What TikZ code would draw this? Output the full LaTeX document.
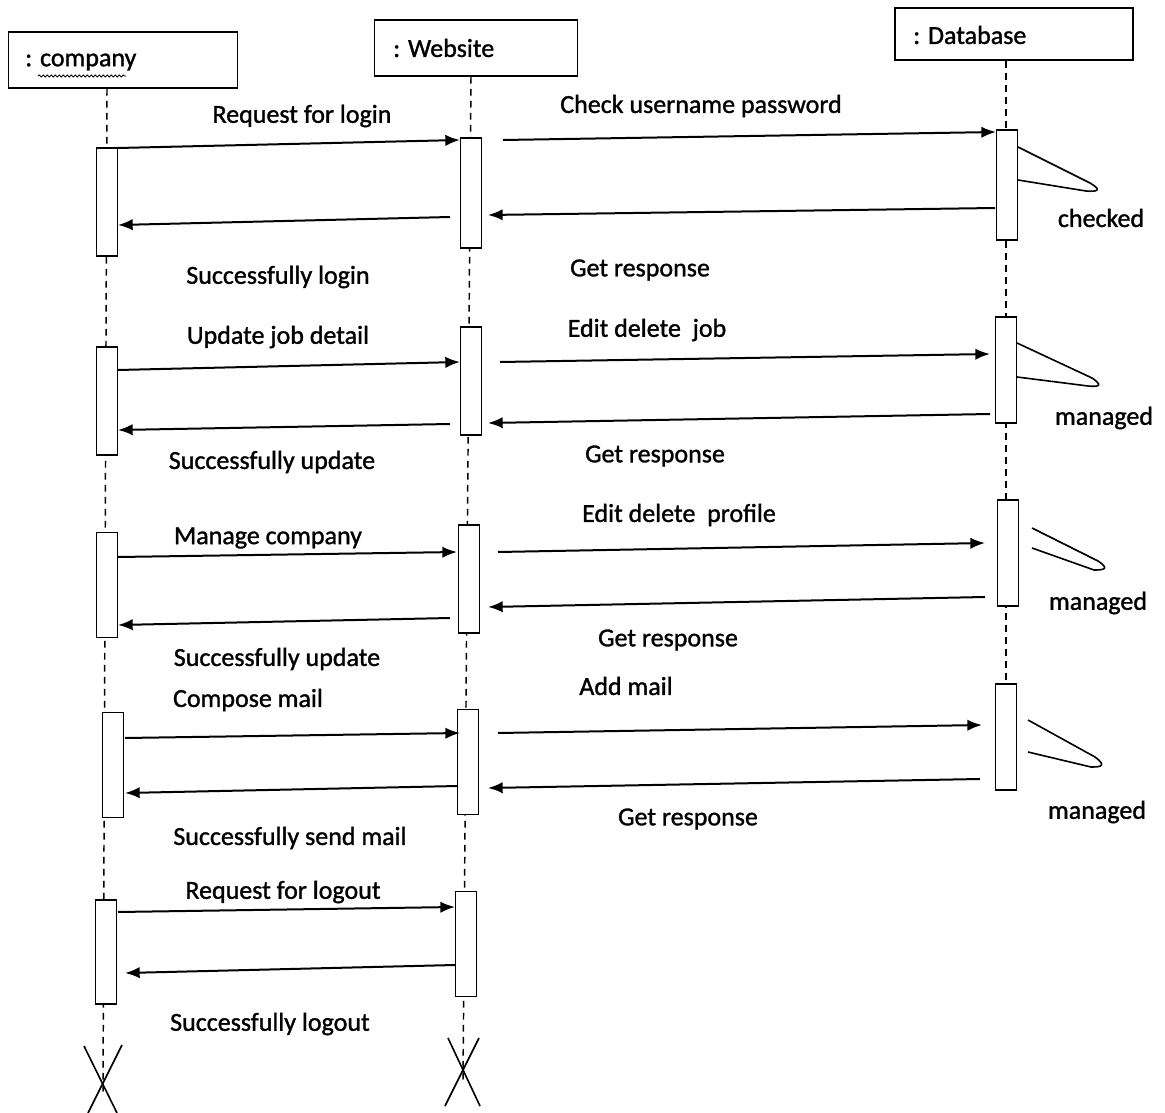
\documentclass[tikz,border=0pt]{standalone}
\usepackage{fontspec}
\setmainfont{Carlito}
\newfontfamily\lblfont{Carlito}[FakeBold=1.2]
\usetikzlibrary{arrows.meta,decorations.pathmorphing}
\tikzset{
  objbox/.style={draw, line width=1.4pt, inner sep=0pt},
  actbox/.style={draw, fill=white, line width=1.2pt, minimum width=16pt, inner sep=0pt},
  life/.style={line width=1.1pt, dash pattern=on 5pt off 4pt},
  msg/.style={line width=1.5pt, -{Latex[length=11pt,width=8.5pt]}},
  lbl/.style={font=\lblfont\fontsize{19.5}{22}\selectfont, inner sep=0pt},
  loopline/.style={line width=1.2pt, line join=round},
  xmark/.style={line width=1.2pt}
}
\newcommand\actv[5]{\node[actbox, minimum height=#4*0.75pt] (#1) at (#2,#3) {};}
\begin{document}
\begin{tikzpicture}[x=0.75pt,y=-0.75pt]
\useasboundingbox (0,0) rectangle (1165,1113);
\fill[white] (0,0) rectangle (1165,1113);
% object boxes
\node[objbox, minimum width=229*0.75pt, minimum height=56*0.75pt] (comp) at (123,60) {};
\node[lbl, anchor=west] (comptxt) at (25,62) {: company};
\draw[line width=0.6pt, decorate, decoration={snake, amplitude=0.8pt, segment length=3pt}] (38,76) -- (126,76);
\node[objbox, minimum width=203*0.75pt, minimum height=56*0.75pt] (web) at (476,48) {};
\node[lbl, anchor=west] (webtxt) at (393,48) {: Website};
\node[objbox, minimum width=238*0.75pt, minimum height=52*0.75pt] (db) at (1014,34) {};
\node[lbl, anchor=west] (dbtxt) at (913,35) {: Database};
% lifelines
\coordinate (cend) at (103,1095);
\coordinate (wend) at (463,1080);
\coordinate (dend) at (1006,684);
\draw[life] (comp.south -| 107,0) -- (cend);
\draw[life] (web.south -| 471,0) -- (wend);
\draw[life] (db.south -| 1006,0) -- (dend);
% activations
\actv{ca1}{107}{202}{108}{}
\actv{ca2}{107}{401}{108}{}
\actv{ca3}{107}{585}{105}{}
\actv{ca4}{113}{765}{105}{}
\actv{ca5}{106}{952}{104}{}
\actv{wa1}{471}{193}{110}{}
\actv{wa2}{471}{381}{108}{}
\actv{wa3}{469}{579}{108}{}
\actv{wa4}{468}{762}{105}{}
\actv{wa5}{466}{944}{105}{}
\actv{da1}{1007}{185}{110}{}
\actv{da2}{1006}{370}{106}{}
\actv{da3}{1008}{553}{106}{}
\actv{da4}{1006}{737}{106}{}
% message end points
\coordinate (m1a) at (118,148); \coordinate (m1b) at (460,140);
\coordinate (m2a) at (450,217); \coordinate (m2b) at (118,225);
\coordinate (m3a) at (503,140); \coordinate (m3b) at (996,132);
\coordinate (m4a) at (995,208); \coordinate (m4b) at (488,215);
\coordinate (m5a) at (118,370); \coordinate (m5b) at (460,362);
\coordinate (m6a) at (450,424); \coordinate (m6b) at (118,430);
\coordinate (m7a) at (500,362); \coordinate (m7b) at (990,354);
\coordinate (m8a) at (990,414); \coordinate (m8b) at (488,423);
\coordinate (m9a) at (118,557); \coordinate (m9b) at (457,552);
\coordinate (m10a) at (450,618); \coordinate (m10b) at (118,625);
\coordinate (m11a) at (498,552); \coordinate (m11b) at (985,543);
\coordinate (m12a) at (985,597); \coordinate (m12b) at (488,607);
\coordinate (m13a) at (125,738); \coordinate (m13b) at (460,733);
\coordinate (m14a) at (458,786); \coordinate (m14b) at (125,793);
\coordinate (m15a) at (498,733); \coordinate (m15b) at (982,725);
\coordinate (m16a) at (980,779); \coordinate (m16b) at (488,788);
\coordinate (m17a) at (118,912); \coordinate (m17b) at (455,907);
\coordinate (m18a) at (455,965); \coordinate (m18b) at (125,973);
\foreach \i in {1,...,18} {\draw[msg] (m\i a) -- (m\i b);}
% labels
\node[lbl] (l1) at (302,116) {Request for login};
\node[lbl] (l2) at (278,277) {Successfully login};
\node[lbl] (l3) at (701,106) {Check username password};
\node[lbl] (l4) at (640,270) {Get response};
\node[lbl] (l5) at (1101,218) {checked};
\node[lbl] (l6) at (278,337) {Update job detail};
\node[lbl] (l7) at (272,462) {Successfully update};
\node[lbl] (l8) at (647,330) {Edit delete\ \ job};
\node[lbl] (l9) at (655,456) {Get response};
\node[lbl] (l10) at (1104,418) {managed};
\node[lbl] (l11) at (268,538) {Manage company};
\node[lbl] (l12) at (277,659) {Successfully update};
\node[lbl] (l13) at (679,515) {Edit delete\ \ profile};
\node[lbl] (l14) at (668,640) {Get response};
\node[lbl] (l15) at (1098,603) {managed};
\node[lbl] (l16) at (248,700) {Compose mail};
\node[lbl] (l17) at (626,686) {Add mail};
\node[lbl] (l18) at (290,838) {Successfully send mail};
\node[lbl] (l19) at (688,819) {Get response};
\node[lbl] (l20) at (1097,812) {managed};
\node[lbl] (l21) at (283,892) {Request for logout};
\node[lbl] (l22) at (270,1024) {Successfully logout};
% self-processing loops
\draw[loopline] (1018,147) -- (1090,183) .. controls (1102,190) and (1098,192) .. (1086,191) -- (1018,180);
\draw[loopline] (1017,343) -- (1092,378) .. controls (1104,386) and (1098,387) .. (1088,386) -- (1017,377);
\draw[loopline] (1032,528) -- (1098,561) .. controls (1110,569) and (1104,570) .. (1094,570) -- (1032,548);
\draw[loopline] (1028,720) -- (1095,757) .. controls (1107,766) and (1101,767) .. (1091,767) -- (1028,752);
% destruction marks
\coordinate (cx1) at (84,1046); \coordinate (cx2) at (117,1113);
\coordinate (cx3) at (122,1045); \coordinate (cx4) at (88,1113);
\draw[xmark] (cx1) -- (cx2); \draw[xmark] (cx3) -- (cx4);
\coordinate (wx1) at (448,1038); \coordinate (wx2) at (480,1106);
\coordinate (wx3) at (479,1038); \coordinate (wx4) at (445,1106);
\draw[xmark] (wx1) -- (wx2); \draw[xmark] (wx3) -- (wx4);
\end{tikzpicture}
\end{document}
